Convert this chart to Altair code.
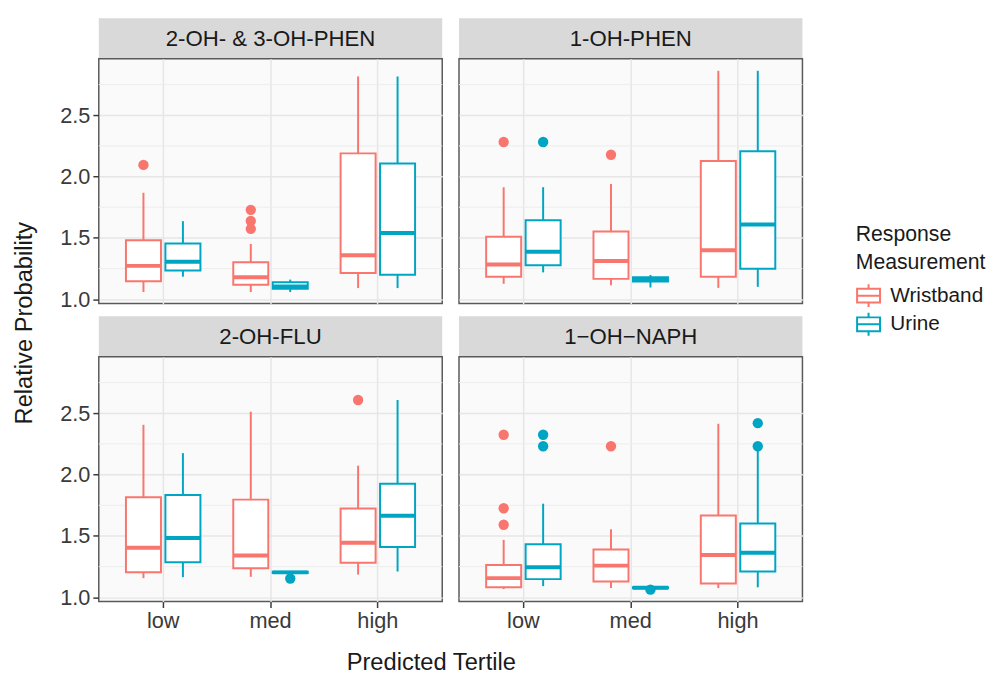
import altair as alt
import pandas as pd

panels = ["2-OH- & 3-OH-PHEN", "1-OH-PHEN", "2-OH-FLU", "1\u2212OH\u2212NAPH"]
tertiles = ["low", "med", "high"]
measures = ["Wristband", "Urine"]
legend_title = "Response\nMeasurement"

# order within each panel: low-W, low-U, med-W, med-U, high-W, high-U
whisker_low = [
    1.059, 1.184, 1.059, 1.059, 1.091, 1.091,
    1.126, 1.219, 1.115, 1.096, 1.093, 1.101,
    1.156, 1.164, 1.167, 1.195, 1.185, 1.210,
    1.067, 1.091, 1.075, 1.072, 1.075, 1.081,
]
q1 = [
    1.147, 1.235, 1.118, 1.085, 1.214, 1.200,
    1.184, 1.278, 1.166, 1.144, 1.184, 1.248,
    1.204, 1.285, 1.237, 1.198, 1.282, 1.409,
    1.081, 1.148, 1.129, 1.074, 1.113, 1.210,
]
median = [
    1.272, 1.305, 1.179, 1.104, 1.358, 1.540,
    1.283, 1.387, 1.312, 1.160, 1.400, 1.609,
    1.403, 1.484, 1.341, 1.203, 1.444, 1.664,
    1.156, 1.245, 1.258, 1.078, 1.344, 1.363,
]
q3 = [
    1.481, 1.454, 1.302, 1.139, 2.189, 2.106,
    1.510, 1.644, 1.553, 1.179, 2.127, 2.207,
    1.815, 1.833, 1.796, 1.208, 1.723, 1.925,
    1.263, 1.433, 1.390, 1.082, 1.667, 1.602,
]
whisker_high = [
    1.868, 1.636, 1.451, 1.160, 2.816, 2.816,
    1.913, 1.913, 1.940, 1.198, 2.862, 2.862,
    2.406, 2.175, 2.513, 1.210, 2.073, 2.608,
    1.468, 1.763, 1.554, 1.084, 2.414, 2.205,
]

out_panel = [0, 0, 0, 0, 1, 1, 1, 2, 2, 3, 3, 3, 3, 3, 3, 3, 3, 3]
out_tertile = ["low", "med", "med", "med", "low", "low", "med", "med", "high",
               "low", "low", "low", "low", "low", "med", "med", "high", "high"]
out_measure = ["Wristband", "Wristband", "Wristband", "Wristband", "Wristband", "Urine", "Wristband",
               "Urine", "Wristband",
               "Wristband", "Wristband", "Wristband", "Urine", "Urine", "Wristband", "Urine", "Urine", "Urine"]
out_value = [2.095, 1.574, 1.638, 1.729, 2.282, 2.282, 2.178,
             1.153, 2.608,
             1.591, 1.726, 2.325, 2.231, 2.325, 2.231, 1.062, 2.231, 2.419]

y_labels = [1.0, 1.5, 2.0, 2.5]
minor_grid = [1.25, 1.75, 2.25, 2.75]

rows = []
k = 0
for p in panels:
    for t in tertiles:
        for m in measures:
            rows.append(dict(panel=p, tertile=t, measure=m, lo=whisker_low[k], q1=q1[k],
                             med=median[k], q3=q3[k], hi=whisker_high[k]))
            k += 1
stats = pd.DataFrame(rows)
outl = pd.DataFrame(dict(panel=[panels[i] for i in out_panel], tertile=out_tertile,
                         measure=out_measure, value=out_value))
minor_df = pd.DataFrame(dict(v=minor_grid))

FONT = "Liberation Sans"
COLORS = ["#F8766D", "#00A5C3"]
PW, PH, SH = 348, 248, 41

cscale = alt.Scale(domain=measures, range=COLORS)
xscale = alt.Scale(domain=tertiles, paddingInner=0, paddingOuter=0.1)
xoscale = alt.Scale(domain=measures, paddingInner=0.1125, paddingOuter=0.416)
yscale = alt.Scale(domain=[0.965, 2.96], nice=False, zero=False)

box_path = "M-1,-0.6L1,-0.6L1,0.6L-1,0.6Z M-1,0L1,0 M0,-0.6L0,-1 M0,0.6L0,1"


def make_panel(i, show_x, show_y):
    d = stats[stats.panel == panels[i]]
    o = outl[outl.panel == panels[i]]
    xaxis = alt.Axis(labels=show_x, ticks=show_x, grid=True, bandPosition=0.5, domain=False,
                     labelAngle=0, title=None, labelPadding=3)
    yaxis = alt.Axis(values=y_labels, format=".1f", labels=show_y, ticks=show_y, grid=True,
                     domain=False, title=None, labelPadding=3)
    X = alt.X("tertile:N", sort=tertiles, scale=xscale, axis=xaxis, title=None)
    XO = alt.XOffset("measure:N", sort=measures, scale=xoscale)
    S = alt.Stroke("measure:N", scale=cscale, legend=None, sort=measures)

    minor = alt.Chart(minor_df).mark_rule(color="#EDEDED", strokeWidth=1).encode(
        y=alt.Y("v:Q", scale=yscale, axis=yaxis, title=None))
    whisk = alt.Chart(d).mark_rule(strokeWidth=2).encode(
        x=X, xOffset=XO, y=alt.Y("lo:Q", scale=yscale, axis=yaxis, title=None), y2="hi:Q", stroke=S)
    box = alt.Chart(d).mark_bar(fill="white", strokeWidth=2).encode(
        x=X, xOffset=XO, y=alt.Y("q1:Q", scale=yscale, axis=yaxis, title=None), y2="q3:Q", stroke=S)
    med = alt.Chart(d).mark_bar(fill="white", fillOpacity=0, strokeWidth=4).encode(
        x=X, xOffset=XO, y=alt.Y("med:Q", scale=yscale, axis=yaxis, title=None), y2="med:Q", stroke=S)
    pts = alt.Chart(o).mark_circle(size=110, opacity=1).encode(
        x=X, xOffset=XO, y=alt.Y("value:Q", scale=yscale, axis=yaxis, title=None),
        fill=alt.Fill("measure:N", scale=cscale, legend=None))
    body = alt.layer(minor, whisk, box, med, pts).properties(width=PW, height=PH)

    strip = alt.Chart(pd.DataFrame(dict(label=[panels[i]]))).mark_text(
        font=FONT, fontSize=22.5, color="#1A1A1A").encode(
        text="label:N", x=alt.value(PW / 2), y=alt.value(SH / 2 + 1)).properties(
        width=PW, height=SH, view=alt.ViewBackground(fill="#D9D9D9", stroke=None))
    return alt.vconcat(strip, body, spacing=0, bounds="flush")


# legend drawn as its own small chart (box glyph + label per measurement)
leg_df = pd.DataFrame(dict(measure=measures))
lyscale = alt.Scale(type="point", domain=measures, range=[281, 310], padding=0)
glyph = alt.Chart(leg_df).mark_point(shape=box_path, size=540, filled=False, strokeWidth=2,
                                     opacity=1).encode(
    x=alt.value(13), y=alt.Y("measure:N", scale=lyscale, axis=None, sort=measures),
    stroke=alt.Stroke("measure:N", scale=cscale, legend=None))
labels = alt.Chart(leg_df).mark_text(align="left", baseline="middle", font=FONT, fontSize=21,
                                     color="#1A1A1A").encode(
    x=alt.value(35), y=alt.Y("measure:N", scale=lyscale, axis=None, sort=measures), text="measure:N")
ltitle = alt.Chart(pd.DataFrame(dict(t=[legend_title]))).mark_text(
    align="left", baseline="top", lineBreak="\n", lineHeight=28, font=FONT, fontSize=21.5,
    color="#1A1A1A").encode(x=alt.value(0), y=alt.value(209), text="t:N")
legend_chart = alt.layer(ltitle, glyph, labels).properties(
    width=120, height=330, view=alt.ViewBackground(fillOpacity=0, strokeOpacity=0))

row1 = alt.hconcat(make_panel(0, False, True), make_panel(1, False, False), spacing=13)
row2 = alt.hconcat(make_panel(2, True, True), make_panel(3, True, False), spacing=13)
grid = alt.vconcat(row1, row2, spacing=5,
                   title=alt.TitleParams("Predicted Tertile", orient="bottom", anchor="middle",
                                         font=FONT, fontSize=24, fontWeight="normal",
                                         color="#1A1A1A", offset=20))
chart = alt.hconcat(grid, legend_chart, spacing=49,
                    title=alt.TitleParams("Relative Probability", orient="left", anchor="middle",
                                          font=FONT, fontSize=24, fontWeight="normal",
                                          color="#1A1A1A", offset=22, dx=24))
chart = chart.properties(padding={"left": 5, "top": 6, "right": 0, "bottom": 0}).configure_view(
    stroke="#595959", strokeWidth=1.5, fill="#FAFAFA").configure_axis(
    labelFont=FONT, labelFontSize=22, labelColor="#3A3A3A", tickColor="#3A3A3A", tickWidth=1.5,
    tickSize=6, gridColor="#E6E6E6", gridWidth=1.5).configure_concat(spacing=0)

chart.save("out.html", embed_options={"renderer": "svg", "actions": False})
